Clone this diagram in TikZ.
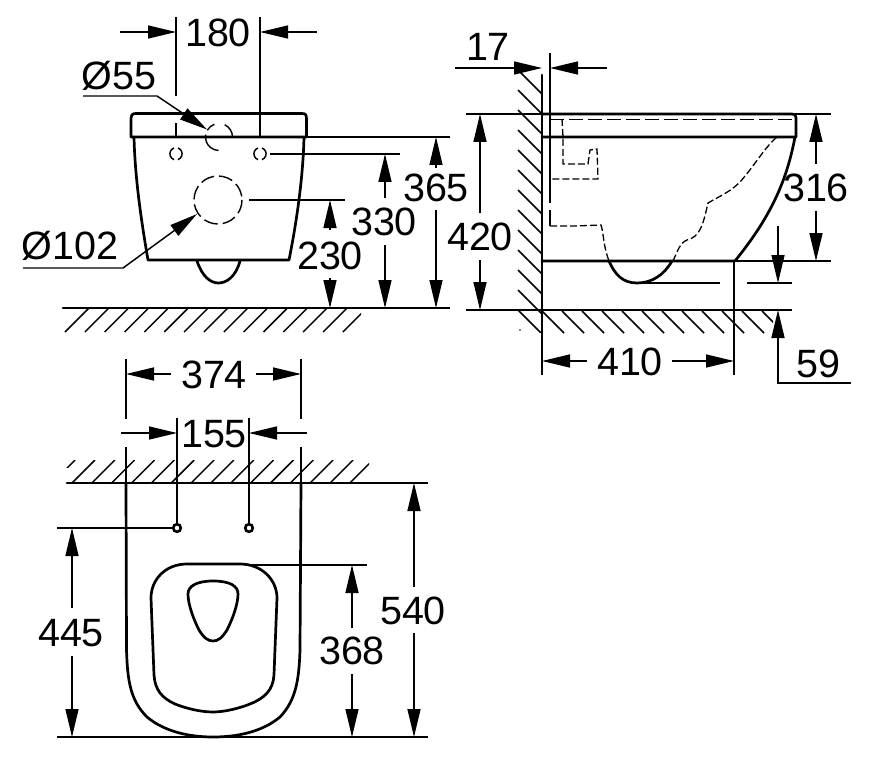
\documentclass[tikz,border=0pt]{standalone}
\usepackage{fontspec}
\setmainfont{Liberation Sans}
\usetikzlibrary{arrows.meta}
\tikzset{
  thinl/.style={line width=1.45pt,black},
  thickl/.style={line width=2.7pt,black,line cap=round,line join=round},
  hatchl/.style={line width=1.45pt,black},
  dashl/.style={line width=1.4pt,black,dash pattern=on 14pt off 5pt},
  dashs/.style={line width=1.3pt,black,dash pattern=on 7pt off 3pt},
  dimtip/.style={thinl,-{Triangle[length=28pt,width=13pt]}},
  dimlabel/.style={inner sep=0pt,font=\fontsize{39.5}{39.5}\selectfont},
}
\begin{document}
\begin{tikzpicture}[x=1pt,y=-1pt]
\useasboundingbox (0,0) rectangle (876,765);
\fill[white] (0,0) rectangle (876,765);

% ---------- front view ----------
\draw[thickl] (131,120) .. controls (131,115) and (132,113.5) .. (136,113.5) -- (302,113.5) .. controls (306,113.5) and (306.5,115) .. (306.5,120) -- (306.5,137) -- (131,137) -- cycle;
\draw[thickl] (134,137) .. controls (135,180) and (142,225) .. (148,260) -- (289,260) .. controls (296,225) and (303,180) .. (304,137);
\draw[thickl] (197,261) .. controls (202,276) and (210,283) .. (218.5,283) .. controls (227,283) and (236,276) .. (240,261);
\draw[thickl] (63,308) -- (361,308);
\draw[thinl] (361,308) -- (450,308);
\draw[thinl] (306,137) -- (450,137);
\begin{scope}
\clip (60,309) rectangle (361,333);
\foreach \k in {0,...,15}{\draw[hatchl] ({65+19.85*\k},332) -- ({89+19.85*\k},308);}
\end{scope}
\draw[thinl] (176,17) -- (176,96) (176,123) -- (176,137);
\draw[thinl] (260,17) -- (260,137);
\draw[dimtip] (120,32) -- (176,32);
\draw[dimtip] (317,32) -- (260,32);
\node[dimlabel] (t180) at (218,33) {180};
\draw[line width=1.4pt] (219,137) ++(-170:13.5) arc[start angle=-170,end angle=-268,radius=13.5];
\draw[line width=1.4pt] (219,137) ++(-110:13.5) arc[start angle=-110,end angle=-150,radius=13.5];
\draw[line width=1.4pt] (219,137) ++(-65:13.5) arc[start angle=-65,end angle=0,radius=13.5];
\foreach \cx in {176,260}{
  \draw[thinl] (\cx-2,148) arc[start angle=250,end angle=110,radius=6.2];
  \draw[thinl] (\cx+2,148) arc[start angle=-70,end angle=70,radius=6.2];
}
\draw[dashl] (218,200) circle (24);
\node[dimlabel] (t55) at (119,76) {Ø55};
\draw[dimtip] (83,96) -- (157,96) -- (207,129.5);
\node[dimlabel] (t102) at (70,246) {Ø102};
\draw[dimtip] (23,268) -- (123,268) -- (197,214);
\draw[thinl] (249,200) -- (345,200);
\draw[dimtip] (330,230) -- (330,200);
\draw[dimtip] (330,278) -- (330,308);
\node[dimlabel] (t230) at (330,256) {230};
\draw[thinl] (270,154) -- (400,154);
\draw[dimtip] (385,198) -- (385,154);
\draw[dimtip] (385,245) -- (385,308);
\node[dimlabel] (t330) at (384,222) {330};
\draw[dimtip] (436,210) -- (436,308);
\draw[dimtip] (436,168) -- (436,137);
\node[dimlabel] (t365) at (436,188) {365};

% ---------- side view ----------
\begin{scope}
\clip (517,74) rectangle (542,332);
\foreach \k in {-1,...,11}{\draw[hatchl] (518,{90+20*\k}) -- (542,{114+20*\k});}
\end{scope}
\fill (520,330) circle (0.9);
\begin{scope}
\clip (542,311) rectangle (773,333);
\foreach \k in {0,...,11}{\draw[hatchl] ({542+20*\k},311) -- ({564+20*\k},333);}
\end{scope}
\draw[thickl] (542,75) -- (542,310) -- (773,310);
\draw[thinl] (542,310) -- (542,375);
\draw[thinl] (550,53) -- (550,203) (550,210) -- (550,226);
\draw[dimtip] (455,68) -- (542,68);
\draw[dimtip] (607,68) -- (550,68);
\node[dimlabel] (t17) at (488,47) {17};
\draw[thinl] (466,114) -- (542,114) (794,114) -- (831,114);
\draw[thinl] (466,310) -- (542,310) (773,310) -- (792,310);
\draw[dimtip] (480,213) -- (480,114);
\draw[dimtip] (480,260) -- (480,310);
\node[dimlabel] (t420) at (480,237) {420};
\draw[thickl] (542,114) -- (792,114) .. controls (795,114) and (796,115) .. (796,118) -- (796,137) -- (542,137);
\draw[dashl] (550,119.5) -- (795,119.5);
\draw[thickl] (795,137) .. controls (786,185) and (768,220) .. (735,261) -- (542,261);
\draw[thinl] (735,261) -- (831,261);
\draw[thickl] (609,261) .. controls (615,275) and (623,283) .. (637,283) .. controls (652,283) and (664,275) .. (672,261);
\draw[thinl] (637,283) -- (720,283) (747,283) -- (792,283);
\draw[thinl] (734,261) -- (734,375);
\draw[dimtip] (778,226) -- (778,283);
\draw[dimtip] (851,383) -- (778,383) -- (778,310);
\node[dimlabel] (t59) at (818,364) {59};
\draw[dimtip] (816,164) -- (816,114);
\draw[dimtip] (816,211) -- (816,261);
\node[dimlabel] (t316) at (816,188) {316};
\draw[dimtip] (587,361) -- (542,361);
\draw[dimtip] (672,361) -- (734,361);
\node[dimlabel] (t410) at (630,362) {410};
\draw[dashs] (562,119) -- (563,137) -- (563,164) -- (588,164) -- (590,150) -- (597,149) -- (598,179) -- (550,179);
\draw[dashs] (550,226) -- (575,226) -- (601,225) .. controls (604,235) and (603,245) .. (609,261);
\draw[dashs] (673,261) .. controls (678,250) and (680,243) .. (687,240) .. controls (700,237) and (703,225) .. (708,203) .. controls (720,196) and (730,192) .. (740,182) .. controls (755,165) and (765,147) .. (777,137);

% ---------- top view ----------
\draw[thinl] (126,359) -- (126,419) (126,447) -- (126,483);
\draw[thinl] (301,359) -- (301,419) (301,447) -- (301,483);
\draw[dimtip] (171,374) -- (126,374);
\draw[dimtip] (256,374) -- (301,374);
\node[dimlabel] (t374) at (214,375) {374};
\draw[thinl] (177,418) -- (177,524) (249,418) -- (249,524);
\draw[dimtip] (121,433) -- (177,433);
\draw[dimtip] (307,433) -- (249,433);
\node[dimlabel] (t155) at (214,434) {155};
\begin{scope}
\clip (66,460) rectangle (369,482);
\foreach \k in {-1,...,15}{\draw[hatchl] ({72+19.85*\k},483) -- ({95+19.85*\k},460);}
\end{scope}
\draw[white,fill=white] (60,468) rectangle (68,482);
\draw[thickl] (67,483) -- (369,483);
\draw[thinl] (369,483) -- (428,483);
\draw[thickl] (126,483) -- (126.5,650) .. controls (127.5,680) and (130,700) .. (147,717) .. controls (165,732) and (190,737) .. (213,737) .. controls (237,737) and (262,732) .. (280,717) .. controls (296,700) and (299,680) .. (300,650) -- (301,483);
\draw[thickl] (187,564) -- (240,564) .. controls (262,564) and (277,580) .. (277,598) -- (274,675) .. controls (273,690) and (265,698) .. (250,704) .. controls (240,708) and (225,712) .. (213,712) .. controls (200,712) and (185,708) .. (175,704) .. controls (162,698) and (155,690) .. (154,675) -- (151,598) .. controls (151,580) and (165,564) .. (187,564) -- cycle;
\draw[thickl] (213,581) .. controls (230,581) and (238,586) .. (238,594) .. controls (238,605) and (232,620) .. (227,630) .. controls (222,638) and (218,641) .. (213,641) .. controls (208,641) and (204,638) .. (199,630) .. controls (194,620) and (188,605) .. (188,594) .. controls (188,586) and (197,581) .. (213,581) -- cycle;
\draw[line width=2.6pt] (177,528) circle (3.8);
\draw[line width=2.6pt] (249,528) circle (3.8);
\draw[thinl] (57,528) -- (172,528);
\draw[thinl] (57,737) -- (428,737);
\draw[dimtip] (72,608) -- (72,528);
\draw[dimtip] (72,656) -- (72,737);
\node[dimlabel] (t445) at (71,633) {445};
\draw[dimtip] (414,587) -- (414,483);
\draw[dimtip] (414,633) -- (414,737);
\node[dimlabel] (t540) at (413,611) {540};
\draw[thinl] (250,565) -- (367,565);
\draw[dimtip] (352,628) -- (352,565);
\draw[dimtip] (352,674) -- (352,737);
\node[dimlabel] (t368) at (352,651) {368};
\end{tikzpicture}
\end{document}
